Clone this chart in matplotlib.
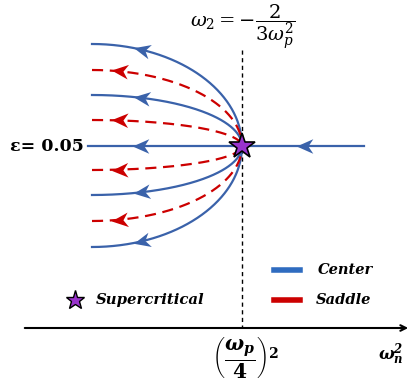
import numpy as np
import matplotlib
matplotlib.use('Agg')
import matplotlib.pyplot as plt
from matplotlib.path import Path
from matplotlib.markers import MarkerStyle
from matplotlib.transforms import Affine2D

plt.rcParams['mathtext.fontset'] = 'custom'
plt.rcParams['mathtext.rm'] = 'DejaVu Serif'
plt.rcParams['mathtext.it'] = 'DejaVu Serif:italic'
plt.rcParams['mathtext.bf'] = 'DejaVu Serif:bold'
plt.rcParams['mathtext.bfit'] = 'DejaVu Serif:italic:bold'

# trajectories leaving the bifurcation point (x = 0, y = 0)
x_left = -1.5
center_offsets = [1.02, 0.51, -0.49, -1.01]
saddle_offsets = [0.76, 0.26, -0.24, -0.75]
center_arrow_x = -0.99
saddle_arrow_x = -1.21
axis_line = [-1.54, 1.22]          # horizontal center trajectory
axis_arrows = [-1.0, 0.64]
x_axis_y = -1.82
crit_top = 0.96

blue = '#3a62aa'
red = '#cc0000'
purple = '#9933cc'


def curve(d, x):
    u = (x - x_left) / (-x_left)
    return d * np.sqrt(np.clip(1 - u ** 2, 0, 1))


def slope(d, x):
    u = (x - x_left) / (-x_left)
    return d * (-u / (-x_left)) / np.sqrt(1 - u ** 2)


# barbed arrow head pointing to -x
head = Path([(-1.0, 0.0), (0.7, 0.75), (0.2, 0.0), (0.7, -0.75), (-1.0, 0.0)],
            [Path.MOVETO, Path.LINETO, Path.LINETO, Path.LINETO, Path.CLOSEPOLY])


def arrow(ax, x, y, dx, dy, color, size):
    ang = np.degrees(np.arctan2(dy, dx)) - 180
    m = MarkerStyle(head, transform=Affine2D().rotate_deg(ang))
    ax.plot([x], [y], marker=m, color=color, markersize=size, mew=0, zorder=4)


fig = plt.figure(figsize=(4.11, 3.87), dpi=100)
ax = fig.add_axes([0, 0, 1, 1])
ax.set_xlim(-2.42, 1.69)
ax.set_ylim(-2.41, 1.46)
ax.axis('off')

xs = np.linspace(x_left, 0, 300)
for d in center_offsets:
    ax.plot(xs, curve(d, xs), color=blue, lw=1.6, zorder=3)
    arrow(ax, center_arrow_x, curve(d, center_arrow_x), -1, -slope(d, center_arrow_x), blue, 14)
for d in saddle_offsets:
    ax.plot(xs, curve(d, xs), color=red, lw=1.6, dashes=(5, 3), zorder=3)
    arrow(ax, saddle_arrow_x, curve(d, saddle_arrow_x), -1, -slope(d, saddle_arrow_x), red, 14)

ax.plot(axis_line, [0, 0], color=blue, lw=1.6, zorder=3)
for xa in axis_arrows:
    arrow(ax, xa, 0, -1, 0, blue, 14)

# critical line and x axis
ax.plot([0, 0], [crit_top, x_axis_y], color='black', lw=1, dashes=(3, 2.5), zorder=2)
ax.annotate('', xy=(1.69, x_axis_y), xytext=(-2.2, x_axis_y),
            arrowprops=dict(arrowstyle='->', color='black', lw=1.5))

ax.plot([0], [0], marker='*', markersize=19, mfc=purple, mec='black', mew=1.2, zorder=5)

ax.text(-1.58, 0, 'ε= 0.05', ha='right', va='center', fontsize=12.5,
        fontweight='bold', family='DejaVu Serif')
ax.text(0.01, 1.19, r'$\omega_2 = -\dfrac{2}{3\omega_p^2}$', ha='center', va='center',
        fontsize=14)
ax.text(0.04, -2.12, r'$\left(\dfrac{\mathbfit{\omega_p}}{\mathbf{4}}\right)^{\mathbf{2}}$',
        ha='center', va='center', fontsize=14.5)
ax.text(1.49, -2.09, r'$\mathbfit{\omega_n^2}$', ha='center', va='center', fontsize=12)

# legend
ax.plot([0.32, 0.58], [-1.24, -1.24], color='#2f6cc0', lw=4)
ax.plot([0.32, 0.58], [-1.54, -1.54], color=red, lw=4)
ax.text(0.76, -1.24, 'Center', ha='left', va='center', fontsize=10.5,
        fontweight='bold', style='italic', family='DejaVu Serif')
ax.text(0.74, -1.54, 'Saddle', ha='left', va='center', fontsize=10.5,
        fontweight='bold', style='italic', family='DejaVu Serif')
ax.plot([-1.67], [-1.54], marker='*', markersize=14, mfc=purple, mec='black', mew=1)
ax.text(-1.46, -1.54, 'Supercritical', ha='left', va='center', fontsize=10.7,
        fontweight='bold', style='italic', family='DejaVu Serif')

fig.savefig('out.png', dpi=100)
